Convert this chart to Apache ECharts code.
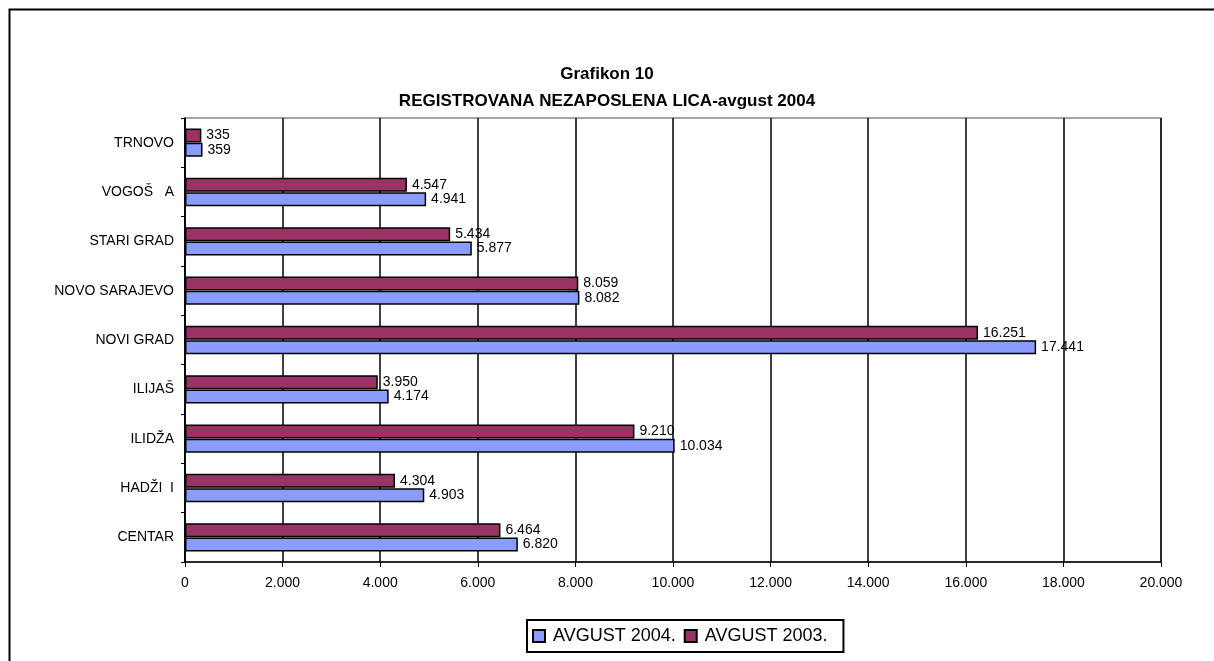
<!DOCTYPE html>
<html>
<head>
<meta charset="utf-8">
<script src="https://cdn.jsdelivr.net/npm/echarts@6/dist/echarts.min.js"></script>
<style>
  html, body { margin: 0; padding: 0; background: #fff; }
  #chart { width: 1214px; height: 661px; }
</style>
</head>
<body>
<div id="chart"></div>
<script>
'use strict';

// opštine, odozdo prema gore
const opstine = ['CENTAR', 'HADŽI  I', 'ILIDŽA', 'ILIJAŠ', 'NOVI GRAD', 'NOVO SARAJEVO', 'STARI GRAD', 'VOGOŠ   A', 'TRNOVO'];
const avgust2004 = [6820, 4903, 10034, 4174, 17441, 8082, 5877, 4941, 359];
const avgust2003 = [6464, 4304, 9210, 3950, 16251, 8059, 5434, 4547, 335];
const xTicks = [0, 20000, 2000];

let fmt = function (v) {
    return String(v).replace(/\B(?=(\d{3})+(?!\d))/g, '.');
};

let myChart = echarts.init(document.getElementById('chart'));

let labelStyle = {
    show: true,
    position: 'right',
    distance: 5,
    color: '#000',
    fontFamily: 'Liberation Sans, Arial, sans-serif',
    fontSize: 14,
    formatter: function (p) { return fmt(p.value); }
};

// u ECharts prva serija ide gore, pa je 2003 prva
let option = {
    animation: false,
    backgroundColor: '#fff',
    textStyle: { fontFamily: 'Liberation Sans, Arial, sans-serif' },
    title: {
        text: 'Grafikon 10\nREGISTROVANA NEZAPOSLENA LICA-avgust 2004',
        left: 'center',
        top: 56,
        textStyle: {
            fontSize: 17,
            fontWeight: 'bold',
            color: '#000',
            lineHeight: 27,
            align: 'center'
        }
    },
    legend: {
        data: ['AVGUST 2004.', 'AVGUST 2003.'],
        left: 527,
        top: 620,
        padding: [7, 16, 7, 5],
        itemGap: 8,
        itemWidth: 12,
        itemHeight: 12,
        icon: 'rect',
        itemStyle: { borderColor: '#000', borderWidth: 2 },
        borderColor: '#000',
        borderWidth: 2,
        textStyle: { fontSize: 18, color: '#000', padding: [0, 0, 0, 3] }
    },
    grid: {
        left: 185,
        top: 118,
        width: 976,
        height: 444,
        show: true,
        borderColor: '#888',
        borderWidth: 1.5,
        containLabel: false
    },
    xAxis: {
        type: 'value',
        min: xTicks[0],
        max: xTicks[1],
        interval: xTicks[2],
        axisLine: { show: true, lineStyle: { color: '#000', width: 1.5 } },
        axisTick: { show: true, length: 5, lineStyle: { color: '#000' } },
        axisLabel: {
            color: '#000',
            fontSize: 14,
            margin: 14,
            formatter: fmt
        },
        splitLine: { show: true, lineStyle: { color: '#000', width: 1.5 } }
    },
    yAxis: {
        type: 'category',
        data: opstine,
        axisLine: { show: true, lineStyle: { color: '#000', width: 1.5 } },
        axisTick: { show: true, length: 4, lineStyle: { color: '#000' } },
        axisLabel: { color: '#000', fontSize: 14, margin: 11 },
        splitLine: { show: false }
    },
    series: [
        {
            name: 'AVGUST 2003.',
            type: 'bar',
            data: avgust2003,
            barWidth: 14,
            barGap: '2%',
            itemStyle: { color: '#993366', borderColor: '#000', borderWidth: 1.5 },
            label: labelStyle
        },
        {
            name: 'AVGUST 2004.',
            type: 'bar',
            data: avgust2004,
            barWidth: 14,
            barGap: '2%',
            itemStyle: { color: '#8a9cff', borderColor: '#000', borderWidth: 1.5 },
            label: labelStyle
        }
    ],
    graphic: [
        {
            type: 'rect',
            shape: { x: 9.5, y: 9.5, width: 1300, height: 800 },
            style: { fill: 'none', stroke: '#000', lineWidth: 2 },
            silent: true
        }
    ]
};

myChart.setOption(option);
</script>
</body>
</html>
